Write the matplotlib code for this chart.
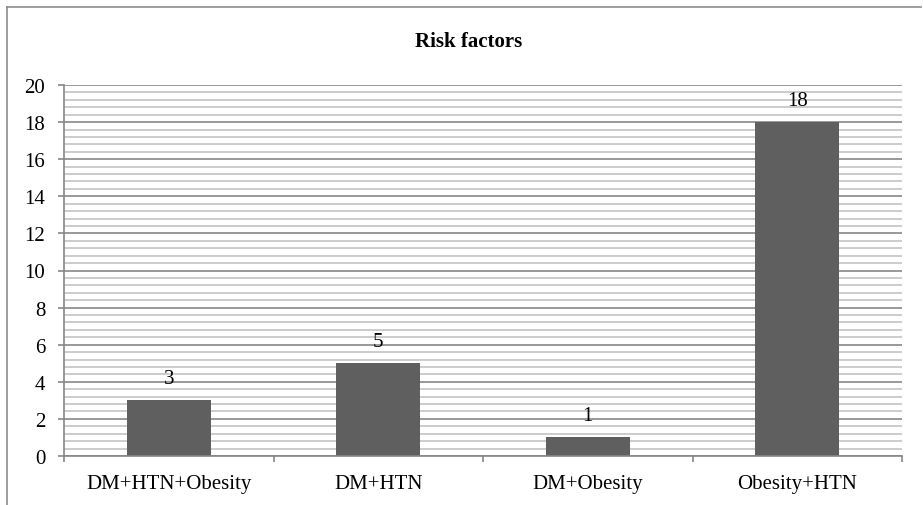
import matplotlib
matplotlib.use("Agg")
import matplotlib.pyplot as plt
from matplotlib.lines import Line2D
from matplotlib.ticker import MultipleLocator, FixedLocator
import numpy as np

# Données
categories = ["DM+HTN+Obesity", "DM+HTN", "DM+Obesity", "Obesity+HTN"]
counts = [3, 5, 1, 18]
title = "Risk factors"

plt.rcParams['font.family'] = ['Liberation Serif', 'DejaVu Serif']

W, H = 923, 506
fig = plt.figure(figsize=(W / 100, H / 100), dpi=100)

# Cadre extérieur (haut et gauche seulement, le reste est coupé)
fig.add_artist(Line2D([7 / W, 921 / W], [1 - 8 / H, 1 - 8 / H], transform=fig.transFigure,
                      color="#8c8c8c", lw=1.2))
fig.add_artist(Line2D([7 / W, 7 / W], [1 - 8 / H, 0], transform=fig.transFigure,
                      color="#8c8c8c", lw=1.2))

ax = fig.add_axes([64 / W, (H - 457) / H, (902 - 64) / W, (457 - 86) / H])

x = np.arange(len(categories))
ax.bar(x, counts, width=0.4, color="#5f5f5f", zorder=3)

for xi, v in zip(x, counts):
    ax.annotate(str(v), (xi, v), xytext=(0, 15.5), textcoords="offset points",
                ha="center", va="center", fontsize=15)

ax.set_xlim(-0.5, len(categories) - 0.5)
ax.set_ylim(0, 20)

# Grille
ax.yaxis.set_major_locator(MultipleLocator(2))
ax.yaxis.set_minor_locator(MultipleLocator(0.4))
ax.grid(axis="y", which="major", color="#878787", lw=1.2, zorder=1)
ax.grid(axis="y", which="minor", color="#c4c4c4", lw=1.2, zorder=1)

ax.set_xticks(x)
ax.set_xticklabels(categories, fontsize=15)
ax.xaxis.set_minor_locator(FixedLocator(np.arange(len(categories) + 1) - 0.5))
ax.tick_params(axis="x", which="major", length=0, pad=13)
ax.tick_params(axis="x", which="minor", length=4, width=1.2, color="#878787", direction="out")
ax.tick_params(axis="y", which="major", length=4.5, width=1.2, color="#878787",
               labelsize=15, pad=9)
ax.tick_params(axis="y", which="minor", length=0)

for side in ["top", "right"]:
    ax.spines[side].set_visible(False)
for side in ["left", "bottom"]:
    ax.spines[side].set_color("#878787")
    ax.spines[side].set_linewidth(1.2)
    ax.spines[side].set_zorder(4)

fig.text(469 / W, 1 - 42 / H, title, ha="center", va="center",
         fontsize=15, fontweight="bold")

fig.savefig("out.png", dpi=100)
